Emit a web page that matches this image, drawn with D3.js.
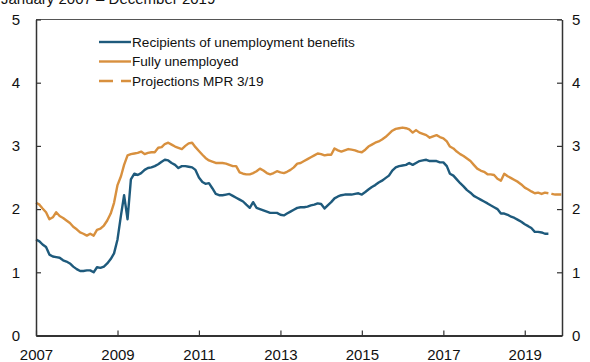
<!DOCTYPE html>
<html><head><meta charset="utf-8">
<script src="https://cdn.jsdelivr.net/npm/d3@7"></script>
<style>
html,body{margin:0;padding:0;background:#fff;}
svg text{font-family:"Liberation Sans",Arial,sans-serif;fill:#111;}
</style></head>
<body><svg id="chart" width="590" height="362"></svg>
<script>
// Data: monthly, starting January 2007
const startYear = 2007;
const title = "January 2007 – December 2019";
const seriesNames = ["Recipients of unemployment benefits", "Fully unemployed", "Projections MPR 3/19"];
const recipients = [
  1.52,1.49,1.44,1.40,1.28,1.25,1.24,1.23,1.19,1.17,1.14,1.09,
  1.05,1.02,1.02,1.03,1.03,1.00,1.08,1.07,1.09,1.14,1.21,1.30,
  1.52,1.90,2.22,1.84,2.47,2.56,2.54,2.57,2.62,2.65,2.66,2.68,
  2.71,2.75,2.78,2.77,2.73,2.70,2.65,2.68,2.68,2.67,2.66,2.62,
  2.50,2.43,2.40,2.41,2.33,2.24,2.22,2.22,2.23,2.24,2.21,2.18,
  2.15,2.12,2.07,2.02,2.11,2.02,2.00,1.98,1.96,1.94,1.94,1.94,
  1.91,1.90,1.93,1.96,1.99,2.02,2.03,2.03,2.04,2.06,2.07,2.09,
  2.08,2.01,2.06,2.11,2.17,2.20,2.22,2.23,2.23,2.23,2.24,2.25,
  2.23,2.27,2.31,2.35,2.38,2.42,2.45,2.49,2.53,2.61,2.66,2.68,
  2.69,2.70,2.73,2.70,2.73,2.76,2.77,2.78,2.76,2.76,2.76,2.74,
  2.74,2.68,2.56,2.53,2.47,2.41,2.36,2.30,2.26,2.21,2.18,2.15,
  2.12,2.09,2.06,2.03,2.00,1.93,1.93,1.91,1.88,1.86,1.83,1.80,
  1.76,1.73,1.70,1.64,1.64,1.63,1.61,1.61
];
const fullyUnemployed = [
  2.10,2.07,2.01,1.95,1.84,1.87,1.95,1.89,1.86,1.82,1.78,1.72,
  1.68,1.63,1.61,1.58,1.61,1.58,1.67,1.69,1.74,1.82,1.93,2.10,
  2.38,2.52,2.70,2.85,2.87,2.88,2.89,2.91,2.87,2.89,2.90,2.90,
  2.97,2.98,3.03,3.05,3.02,2.99,2.97,2.95,3.00,3.04,3.05,2.98,
  2.92,2.86,2.81,2.77,2.75,2.73,2.73,2.73,2.72,2.70,2.68,2.68,
  2.58,2.56,2.55,2.55,2.57,2.60,2.64,2.61,2.57,2.55,2.57,2.60,
  2.58,2.57,2.59,2.62,2.66,2.72,2.73,2.76,2.79,2.82,2.85,2.88,
  2.87,2.85,2.86,2.86,2.96,2.93,2.91,2.93,2.95,2.94,2.93,2.91,
  2.90,2.94,2.99,3.02,3.05,3.07,3.10,3.14,3.19,3.24,3.27,3.28,
  3.29,3.28,3.26,3.21,3.25,3.21,3.19,3.17,3.13,3.15,3.17,3.14,
  3.12,3.07,2.99,2.96,2.91,2.87,2.84,2.80,2.76,2.70,2.64,2.61,
  2.59,2.55,2.55,2.54,2.48,2.45,2.56,2.52,2.49,2.46,2.43,2.39,
  2.34,2.31,2.28,2.25,2.26,2.24,2.26,2.25
];
// Projection: August 2019 – December 2019
const projectionStartMonth = 151;
const projection = [2.25,2.24,2.23,2.23,2.23];
const yTicks = [0,1,2,3,4,5];
const xTickYears = [2007,2009,2011,2013,2015,2017,2019];

const colors = {blue:"#1e5a7c", orange:"#d8903e", axis:"#333"};
const svg = d3.select("#chart");
const L = 36, R = 562, T = 19.5, B = 335.5;
const dateOf = i => new Date(startYear, i, 1);
const x = d3.scaleTime().domain([new Date(2007,0,1), new Date(2019,11,1)]).range([L, R]);
const y = d3.scaleLinear().domain([0,5]).range([B, T]);

// Title (partially cut off at top)
svg.append("text").attr("x", 1).attr("y", 3.5).attr("font-size", 15).text(title);

// top border
svg.append("line").attr("x1", L).attr("x2", R).attr("y1", T).attr("y2", T)
  .attr("stroke", "#555").attr("stroke-width", 1);

const line = d3.line().x(d => x(d.date)).y(d => y(d.v));
const toPts = (arr, off) => arr.map((v, i) => ({date: dateOf(i + off), v}));

svg.append("path").datum(toPts(fullyUnemployed, 0)).attr("d", line)
  .attr("fill","none").attr("stroke", colors.orange).attr("stroke-width", 2.4).attr("stroke-linejoin","round");
svg.append("path").datum(toPts(projection, projectionStartMonth)).attr("d", line)
  .attr("fill","none").attr("stroke", colors.orange).attr("stroke-width", 2.4).attr("stroke-dasharray","0,3,10,5");
svg.append("path").datum(toPts(recipients, 0)).attr("d", line)
  .attr("fill","none").attr("stroke", colors.blue).attr("stroke-width", 2.4).attr("stroke-linejoin","round");

// Axes
const styleAxis = g => {
  g.select(".domain").attr("stroke", colors.axis).attr("stroke-width", 1.5);
  g.selectAll(".tick line").attr("stroke", colors.axis).attr("stroke-width", 1.2);
  g.selectAll("text").attr("font-size", 15).attr("fill", "#111")
   .style("font-family", '"Liberation Sans", Arial, sans-serif');
};
svg.append("g").attr("transform", `translate(${L},0)`)
  .call(d3.axisLeft(y).tickValues(yTicks).tickFormat(d3.format("d")).tickSizeInner(-5).tickSizeOuter(0).tickPadding(16))
  .call(styleAxis);
svg.append("g").attr("transform", `translate(${R},0)`)
  .call(d3.axisRight(y).tickValues(yTicks).tickFormat(d3.format("d")).tickSizeInner(-5).tickSizeOuter(0).tickPadding(10))
  .call(styleAxis);
svg.append("g").attr("transform", `translate(0,${B})`)
  .call(d3.axisBottom(x).tickValues(xTickYears.map(yr => new Date(yr,0,1))).tickFormat(d3.timeFormat("%Y")).tickSizeInner(-5).tickSizeOuter(0).tickPadding(14))
  .call(styleAxis)
  .call(g => g.select(".domain").attr("stroke-width", 2));

// Legend
const legend = [
  {name: seriesNames[0], color: colors.blue, dash: null},
  {name: seriesNames[1], color: colors.orange, dash: null},
  {name: seriesNames[2], color: colors.orange, dash: "14,8"}
];
const lg = svg.append("g");
legend.forEach((d, i) => {
  const yy = 42 + i * 19.5;
  lg.append("line").attr("x1", 99).attr("x2", 131).attr("y1", yy).attr("y2", yy)
    .attr("stroke", d.color).attr("stroke-width", 2.4).attr("stroke-dasharray", d.dash);
  lg.append("text").attr("x", 132).attr("y", yy).attr("dy", "0.35em")
    .attr("font-size", 13.6).text(d.name);
});
</script></body></html>
